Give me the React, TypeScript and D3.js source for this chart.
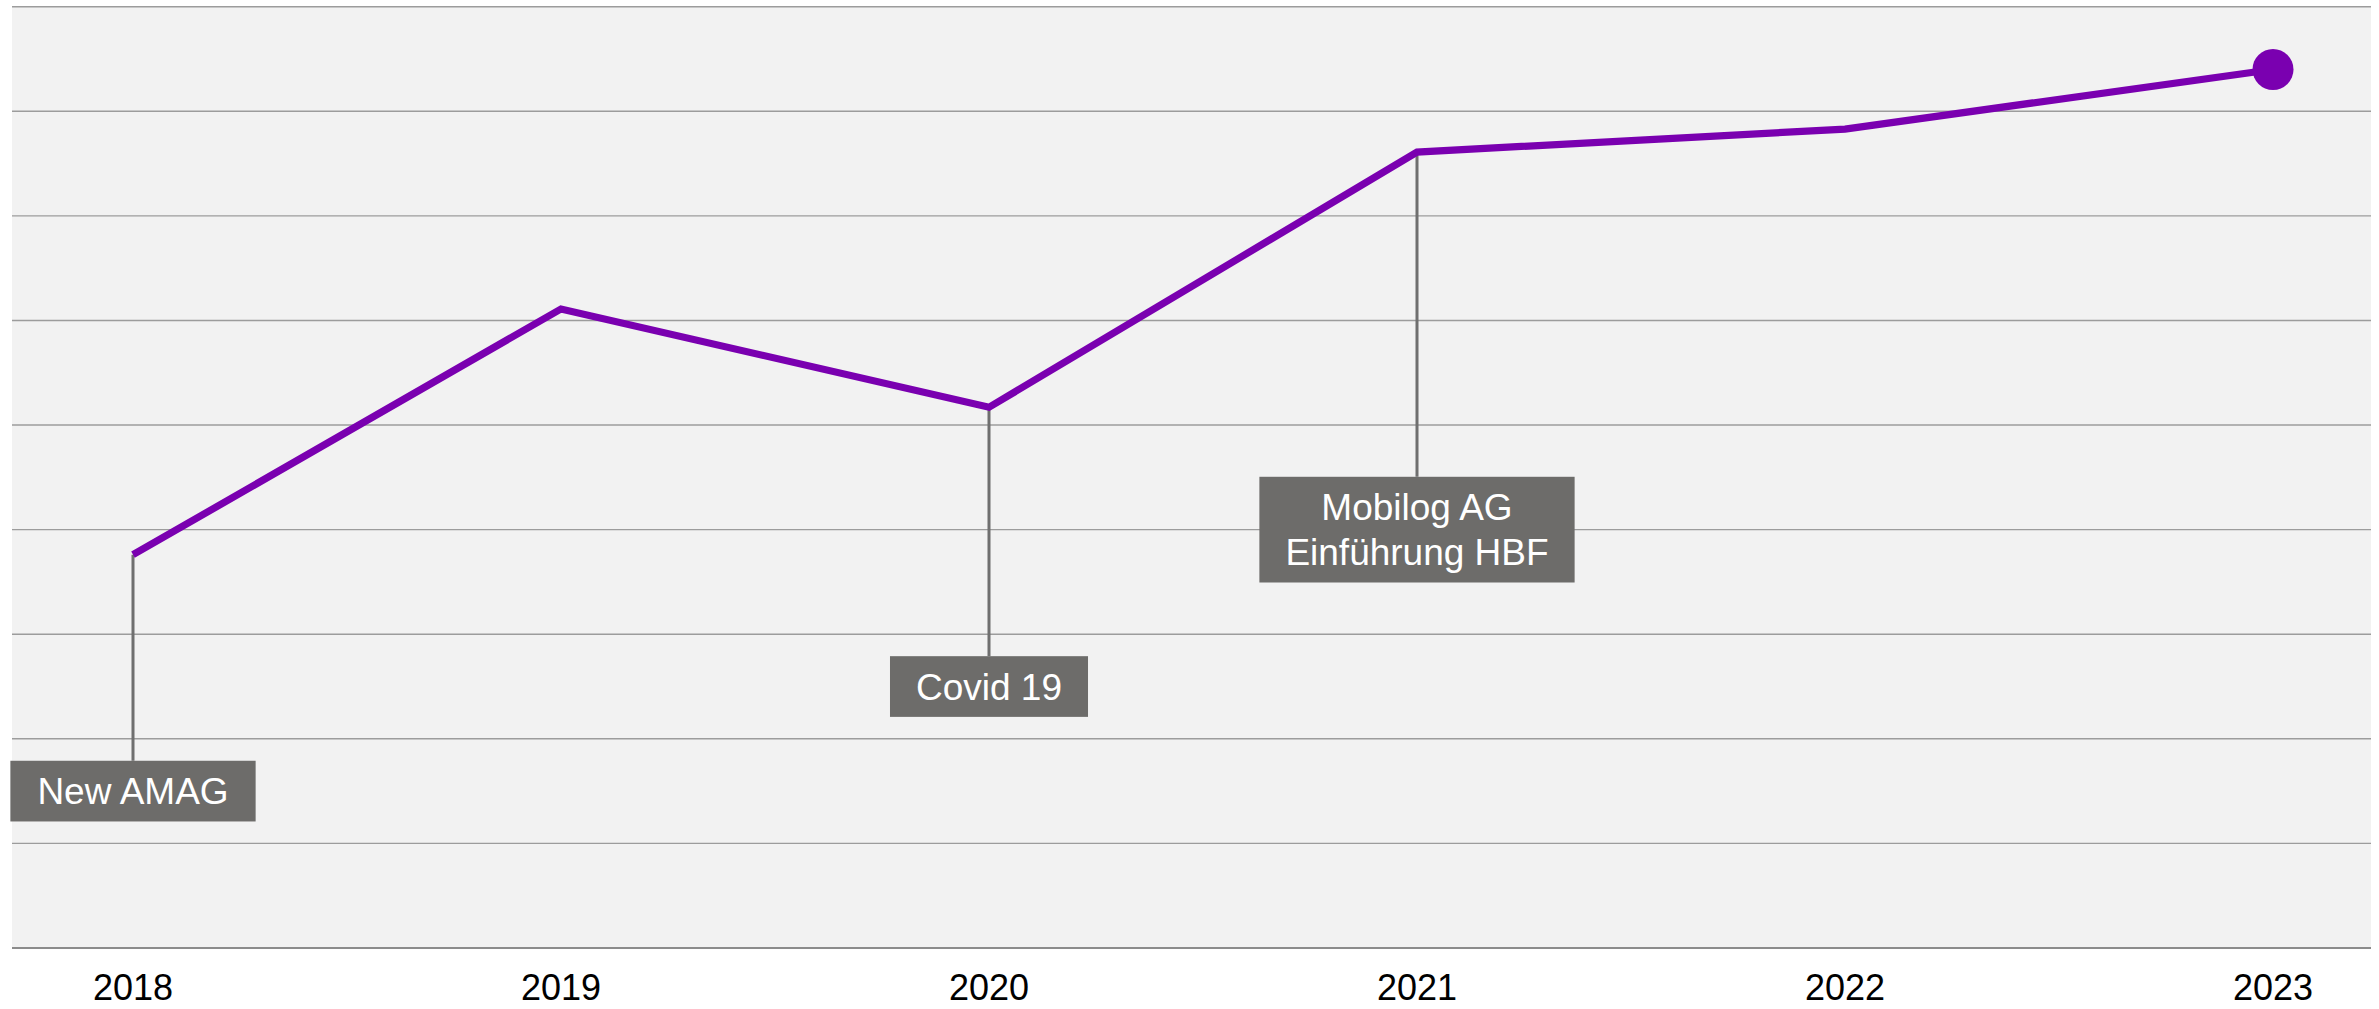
import React, { useEffect } from "react";
import * as d3 from "d3";

// ---- data ----
const years: string[] = ["2018", "2019", "2020", "2021", "2022", "2023"];
const values: number[] = [3.76, 6.11, 5.17, 7.61, 7.83, 8.4];
const yTicks: number[] = [0, 1, 2, 3, 4, 5, 6, 7, 8, 9];
const annotationYears: string[] = ["2018", "2020", "2021"];
const annotationTexts: string[][] = [["New AMAG"], ["Covid 19"], ["Mobilog AG", "Einführung HBF"]];
const annotationLevels: number[] = [1.5, 2.5, 4.0];

// ---- layout / style ----
const W = 2379;
const H = 1009;
const plotLeft = 12;
const plotRight = 2371;
const plotTop = 6.7;
const plotBottom = 948;
const firstX = 133;
const lastX = 2273;
const FONT = "'Liberation Sans', Arial, Helvetica, sans-serif";
const purple = "#7a00b0";
const boxFill = "#6d6c6a";
const labelFs = 37;
const lineH = 45;

function measure(text: string, fs: number): number {
  const c = document.createElement("canvas");
  const ctx = c.getContext("2d");
  if (!ctx) return text.length * fs * 0.55;
  ctx.font = `${fs}px 'Liberation Sans', Arial, sans-serif`;
  return ctx.measureText(text).width;
}

export default function App() {
  useEffect(() => {
    document.body.style.margin = "0";
    document.body.style.overflow = "hidden";
  }, []);

  const x = d3.scalePoint<string>().domain(years).range([firstX, lastX]);
  const y = d3.scaleLinear().domain([0, 9]).range([plotBottom, plotTop]);

  const pts: [number, number][] = years.map((yr, i) => [x(yr) as number, y(values[i])]);
  const lineGen = d3.line<[number, number]>().x((d) => d[0]).y((d) => d[1]).curve(d3.curveLinear);
  const last = pts[pts.length - 1];

  return (
    <svg width={W} height={H} style={{ display: "block", position: "absolute", left: 0, top: 0 }} fontFamily={FONT}>
      <rect x={0} y={0} width={W} height={H} fill="#ffffff" />
      <rect x={plotLeft} y={plotTop} width={plotRight - plotLeft} height={plotBottom - plotTop} fill="#f2f2f2" />
      {yTicks.map((t) =>
        t === 0 ? null : (
          <line key={t} x1={plotLeft} x2={plotRight} y1={y(t)} y2={y(t)} stroke="#9c9c9c" strokeWidth={1.4} />
        )
      )}
      <line x1={plotLeft} x2={plotRight} y1={y(0)} y2={y(0)} stroke="#8c8c8c" strokeWidth={2.2} />

      {annotationYears.map((yr, i) => {
        const idx = years.indexOf(yr);
        const cx = x(yr) as number;
        const lines = annotationTexts[i];
        const cy = y(annotationLevels[i]);
        const bh = lines.length * lineH + 15.7;
        const tw = Math.max(...lines.map((l) => measure(l, labelFs)));
        const bw = tw + 52;
        const top = cy - bh / 2;
        return (
          <g key={yr}>
            <line x1={cx} x2={cx} y1={y(values[idx])} y2={top} stroke="#6f6f6f" strokeWidth={3} />
            <rect x={cx - bw / 2} y={top} width={bw} height={bh} fill={boxFill} />
            {lines.map((l, j) => (
              <text
                key={j}
                x={cx}
                y={cy + (j - (lines.length - 1) / 2) * lineH + 13}
                textAnchor="middle"
                fontSize={labelFs}
                fill="#ffffff"
              >
                {l}
              </text>
            ))}
          </g>
        );
      })}

      <path d={lineGen(pts) || ""} fill="none" stroke={purple} strokeWidth={7.2} strokeLinejoin="miter" />
      <circle cx={last[0]} cy={last[1]} r={20.5} fill={purple} />

      {years.map((yr) => (
        <text key={yr} x={x(yr) as number} y={1000} textAnchor="middle" fontSize={36} fill="#000000">
          {yr}
        </text>
      ))}
    </svg>
  );
}
